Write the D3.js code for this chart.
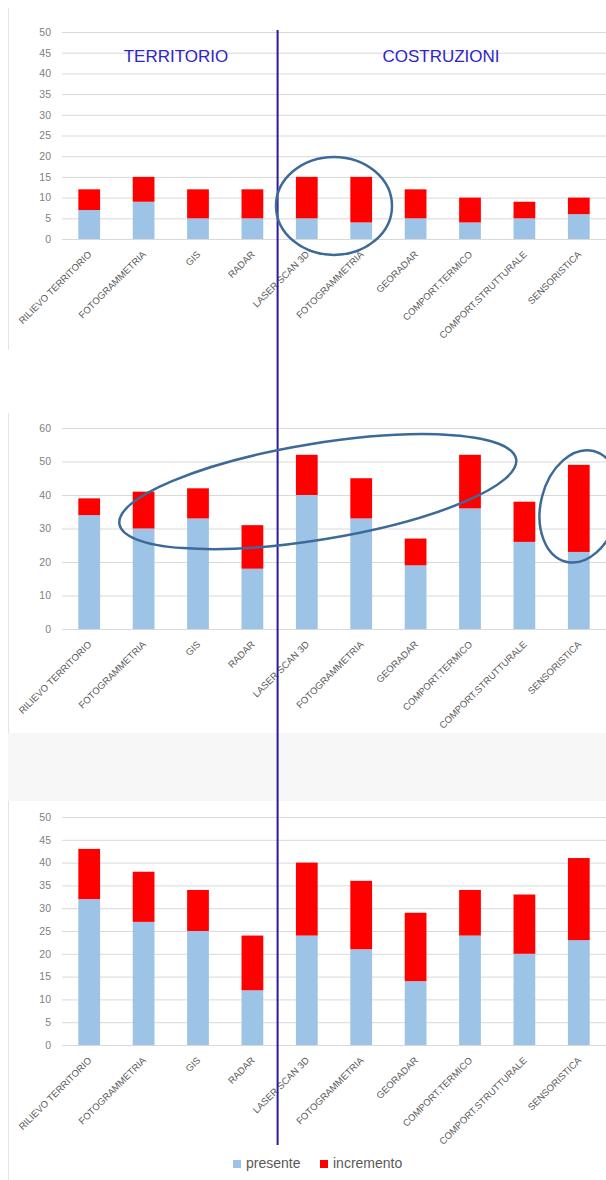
<!DOCTYPE html>
<html>
<head>
<meta charset="utf-8">
<script src="https://cdn.jsdelivr.net/npm/d3@7/dist/d3.min.js"></script>
<style>
  html, body { margin: 0; padding: 0; background: #ffffff; }
  svg { display: block; font-family: "Liberation Sans", Arial, sans-serif; }
</style>
</head>
<body>
<svg id="chart" width="606" height="1180"></svg>
<script>
// Categories (two groups: territorio / costruzioni)
const categories = ["RILIEVO TERRITORIO", "FOTOGRAMMETRIA", "GIS", "RADAR",
  "LASER SCAN 3D", "FOTOGRAMMETRIA", "GEORADAR", "COMPORT.TERMICO",
  "COMPORT.STRUTTURALE", "SENSORISTICA"];
const groupTitles = ["TERRITORIO", "COSTRUZIONI"];
const territorioCount = 4;

// Series per panel
const presente1   = [7, 9, 5, 5, 5, 4, 5, 4, 5, 6];
const incremento1 = [5, 6, 7, 7, 10, 11, 7, 6, 4, 4];
const presente2   = [34, 30, 33, 18, 40, 33, 19, 36, 26, 23];
const incremento2 = [5, 11, 9, 13, 12, 12, 8, 16, 12, 26];
const presente3   = [32, 27, 25, 12, 24, 21, 14, 24, 20, 23];
const incremento3 = [11, 11, 9, 12, 16, 15, 15, 10, 13, 18];

// Y tick values per panel
const ticks1 = [0, 5, 10, 15, 20, 25, 30, 35, 40, 45, 50];
const ticks2 = [0, 10, 20, 30, 40, 50, 60];
const ticks3 = [0, 5, 10, 15, 20, 25, 30, 35, 40, 45, 50];

const seriesNames = ["presente", "incremento"];
const colors = { presente: "#9dc3e6", incremento: "#ff0000" };

const svg = d3.select("#chart");
const W = 606;

// Chart frames: left border lines and the grey strip between panels
const frame = svg.append("g");
frame.append("rect").attr("x", 8).attr("y", 733).attr("width", W - 8).attr("height", 68).attr("fill", "#f7f7f7");
[[8, 350], [413, 733], [801, 1180]].forEach(([a, b]) => {
  frame.append("line").attr("x1", 8.5).attr("x2", 8.5).attr("y1", a).attr("y2", b)
    .attr("stroke", "#e3e3e3").attr("stroke-width", 1);
});

const x = d3.scaleBand().domain(d3.range(categories.length)).range([62, 606]).padding(0);
const barW = x.bandwidth() * 0.4;
const cx = i => x(i) + x.bandwidth() / 2;

const panels = [
  { pres: presente1, inc: incremento1, ticks: ticks1, max: 50, y0: 239, y1: 32 },
  { pres: presente2, inc: incremento2, ticks: ticks2, max: 60, y0: 629, y1: 428 },
  { pres: presente3, inc: incremento3, ticks: ticks3, max: 50, y0: 1045, y1: 817 }
];

panels.forEach(p => {
  const y = d3.scaleLinear().domain([0, p.max]).range([p.y0, p.y1]);
  p.y = y;
  const g = svg.append("g");

  // gridlines + tick labels
  const yAxis = d3.axisLeft(y).tickValues(p.ticks).tickSize(-(606 - 62)).tickPadding(11);
  const ax = g.append("g").attr("transform", "translate(62,0)").call(yAxis);
  ax.select(".domain").remove();
  ax.selectAll(".tick line").attr("stroke", "#d9d9d9").attr("stroke-width", 1);
  ax.selectAll(".tick text").attr("fill", "#808080").attr("font-size", "10.5px")
    .attr("font-family", "'Liberation Sans', Arial, sans-serif");

  // stacked bars
  const rows = categories.map((c, i) => ({ i, presente: p.pres[i], incremento: p.inc[i] }));
  const stacked = d3.stack().keys(seriesNames)(rows);
  g.selectAll("g.series").data(stacked).join("g").attr("class", "series")
    .attr("fill", d => colors[d.key])
    .selectAll("rect").data(d => d).join("rect")
    .attr("x", d => cx(d.data.i) - barW / 2)
    .attr("width", barW)
    .attr("y", d => y(d[1]))
    .attr("height", d => y(d[0]) - y(d[1]));

  // category labels
  const xAxis = d3.axisBottom(x).tickSize(0).tickFormat(i => categories[i]);
  const xa = g.append("g").attr("transform", `translate(0,${p.y0})`).call(xAxis);
  xa.select(".domain").remove();
  xa.selectAll(".tick text")
    .attr("y", 0).attr("dy", 0).attr("x", 0)
    .attr("text-anchor", "end")
    .attr("transform", "translate(3,16) rotate(-45)")
    .attr("fill", "#595959").attr("font-size", "9.5px")
    .attr("font-family", "'Liberation Sans', Arial, sans-serif");
});

// Group titles
const sepX = x(territorioCount) - 2;
svg.append("text").attr("x", 176).attr("y", 62).attr("text-anchor", "middle")
  .attr("font-size", "17px").attr("fill", "#2f24c8").text(groupTitles[0]);
svg.append("text").attr("x", 441).attr("y", 62).attr("text-anchor", "middle")
  .attr("font-size", "17px").attr("fill", "#2f24c8").text(groupTitles[1]);

// Separator between the two groups
svg.append("line").attr("x1", sepX).attr("x2", sepX).attr("y1", 30).attr("y2", 1145)
  .attr("stroke", "#2b1a9e").attr("stroke-width", 2);

// Highlight ellipses
const hl = svg.append("g").attr("fill", "none").attr("stroke", "#3d6a98").attr("stroke-width", 2.5);
const p1 = panels[0], p2 = panels[1];
hl.append("ellipse")
  .attr("cx", (cx(4) + cx(5)) / 2).attr("cy", p1.y(8))
  .attr("rx", 58).attr("ry", 49);
hl.append("ellipse")
  .attr("rx", 201).attr("ry", 48)
  .attr("transform", `translate(${cx(4) + 11},${p2.y(41)}) rotate(-9.3)`);
hl.append("ellipse")
  .attr("rx", 39).attr("ry", 57)
  .attr("transform", `translate(${cx(9) + 1},${p2.y(36.6)}) rotate(14)`);

// Legend
const legend = svg.append("g").attr("font-size", "14px").attr("fill", "#595959");
const legendItems = [{ key: "presente", x: 233 }, { key: "incremento", x: 320 }];
legendItems.forEach(it => {
  legend.append("rect").attr("x", it.x).attr("y", 1160).attr("width", 8).attr("height", 8)
    .attr("fill", colors[it.key]);
  legend.append("text").attr("x", it.x + 13).attr("y", 1168).text(it.key);
});
</script>
</body>
</html>
